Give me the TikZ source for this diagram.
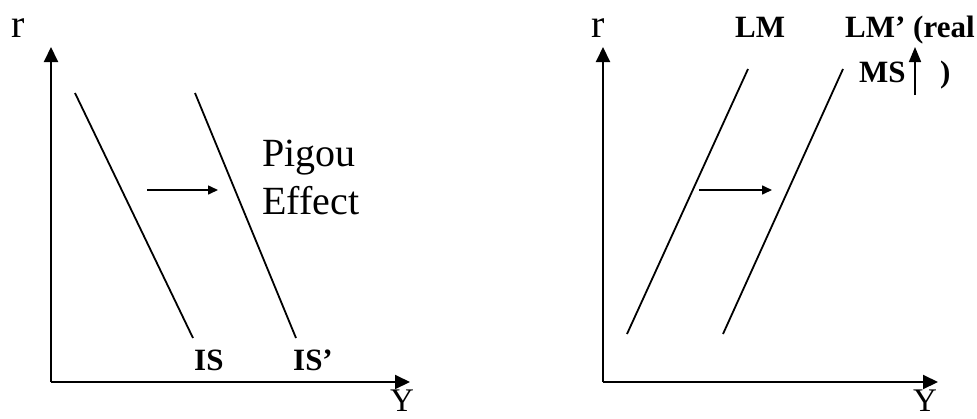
\documentclass[tikz,border=0pt]{standalone}
\usepackage{fontspec}
\setmainfont{Liberation Serif}
\usetikzlibrary{arrows.meta}

\begin{document}
\begin{tikzpicture}[x=1pt, y=-1pt, >={Triangle[length=15pt,width=14pt]},
  axis/.style={line width=2pt, ->},
  curve/.style={line width=1.8pt},
  shiftarrow/.style={line width=1.6pt, -{Triangle[length=10pt,width=9pt]}},
  bigtext/.style={font=\fontsize{40}{40}\selectfont, inner sep=0pt},
  bodytext/.style={font=\fontsize{40}{40}\selectfont, inner sep=0pt, anchor=base west},
  curvelabel/.style={font=\fontsize{31}{31}\selectfont\bfseries, inner sep=0pt, anchor=base west},]
\useasboundingbox (0,0) rectangle (977,418);
% IS panel
\coordinate (o1) at (51,382);
\coordinate (r1) at (51,47);
\coordinate (y1) at (410,382);
\node[bigtext, anchor=base west] (rlab1) at (11,37) {r};
\node[bigtext, anchor=base, font=\fontsize{33}{33}\selectfont] (ylab1) at (402,411) {Y};
\draw[axis] (o1)--(r1);
\draw[axis] (o1)--(y1);
\coordinate (is top) at (75,93);
\coordinate (is bot) at (193,338);
\coordinate (isp top) at (195,93);
\coordinate (isp bot) at (296,338);
\draw[curve] (is top)--(is bot);
\draw[curve] (isp top)--(isp bot);
\coordinate (s1) at (147,190);
\coordinate (e1) at (218,190);
\draw[shiftarrow] (s1)--(e1);
\node[bodytext] (pigou) at (262,166) {Pigou};
\node[bodytext] (effect) at (262,214) {Effect};
\node[curvelabel] (is) at (194,370) {IS};
\node[curvelabel] (isp) at (293,370) {IS’};
% LM panel
\coordinate (o2) at (603,382);
\coordinate (r2) at (603,47);
\coordinate (y2) at (938,382);
\node[bigtext, anchor=base west] (rlab2) at (591,37) {r};
\node[bigtext, anchor=base, font=\fontsize{33}{33}\selectfont] (ylab2) at (925,411) {Y};
\draw[axis] (o2)--(r2);
\draw[axis] (o2)--(y2);
\coordinate (lm bot) at (627,334);
\coordinate (lm top) at (748,69);
\coordinate (lmp bot) at (723,334);
\coordinate (lmp top) at (843,69);
\draw[curve] (lm bot)--(lm top);
\draw[curve] (lmp bot)--(lmp top);
\coordinate (s2) at (699,190);
\coordinate (e2) at (772,190);
\draw[shiftarrow] (s2)--(e2);
\node[curvelabel] (lm) at (735,37) {LM};
\node[curvelabel] (lmp) at (845,37) {LM’ (real};
\node[curvelabel] (ms) at (859,82) {MS};
\node[curvelabel] (paren) at (940,82) {)};
\coordinate (ms bot) at (915,95);
\coordinate (ms top) at (915,47);
\draw[line width=1.6pt, -{Triangle[length=15pt,width=12pt]}] (ms bot)--(ms top);
\end{tikzpicture}
\end{document}
